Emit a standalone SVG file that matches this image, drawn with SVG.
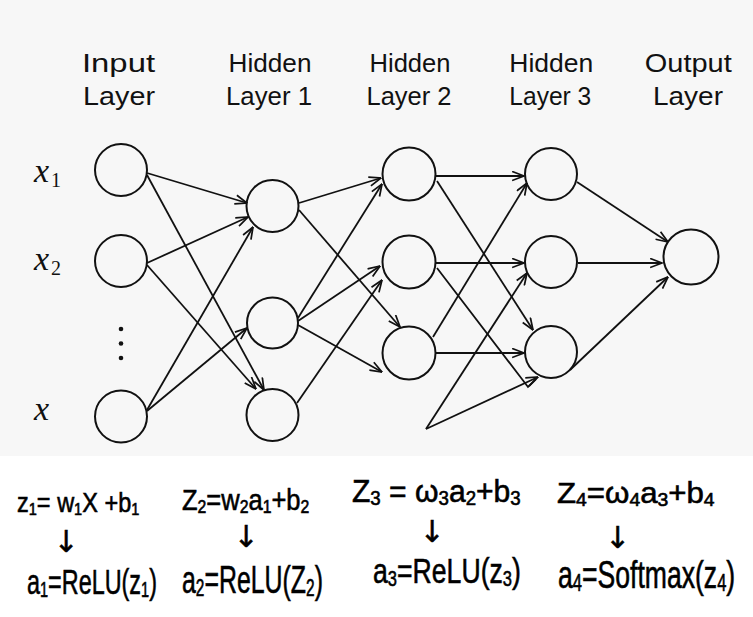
<svg xmlns="http://www.w3.org/2000/svg" width="753" height="617" viewBox="0 0 753 617">
<defs>
<marker id="ah" viewBox="0 0 12 10" refX="11.5" refY="5" markerWidth="13" markerHeight="11" markerUnits="userSpaceOnUse" orient="auto">
<path d="M0.5,0.8 L11.5,5 L0.5,9.2" fill="none" stroke="#111" stroke-width="1.6" stroke-linejoin="miter"/>
</marker>
<style>
.node{fill:none;stroke:#111;stroke-width:2}
.edge{fill:none;stroke:#111;stroke-width:1.8;marker-end:url(#ah)}
.plain{fill:none;stroke:#111;stroke-width:1.8}
.title{font-family:"Liberation Sans","DejaVu Sans",sans-serif;font-size:26px;fill:#111;text-anchor:middle}
.var{font-family:"Liberation Serif","DejaVu Serif",serif;font-style:italic;font-size:34px;fill:#111}
.varsub{font-style:normal;font-size:20px}
.eq{font-family:"Liberation Sans","DejaVu Sans",sans-serif;fill:#000;stroke:#000;stroke-width:0.6}
.sub{font-size:62%}
.arr{font-family:"DejaVu Sans",sans-serif;font-size:30px;fill:#000;stroke:#000;stroke-width:0.5;text-anchor:middle}
.dot{fill:#111}
</style>
</defs>
<rect x="0" y="0" width="753" height="617" fill="#ffffff"/>
<rect x="0" y="0" width="753" height="456" fill="#f7f7f7"/>

<g id="titles">
<text class="title" x="118.5" y="72" textLength="73" lengthAdjust="spacingAndGlyphs">Input</text>
<text class="title" x="119" y="105" textLength="72" lengthAdjust="spacingAndGlyphs">Layer</text>
<text class="title" x="270" y="72" textLength="83" lengthAdjust="spacingAndGlyphs">Hidden</text>
<text class="title" x="269" y="105" textLength="86" lengthAdjust="spacingAndGlyphs">Layer 1</text>
<text class="title" x="410" y="72" textLength="81" lengthAdjust="spacingAndGlyphs">Hidden</text>
<text class="title" x="409" y="105" textLength="85" lengthAdjust="spacingAndGlyphs">Layer 2</text>
<text class="title" x="551.3" y="72" textLength="84" lengthAdjust="spacingAndGlyphs">Hidden</text>
<text class="title" x="550.3" y="105" textLength="82" lengthAdjust="spacingAndGlyphs">Layer 3</text>
<text class="title" x="688.3" y="72" textLength="87" lengthAdjust="spacingAndGlyphs">Output</text>
<text class="title" x="688" y="105" textLength="70" lengthAdjust="spacingAndGlyphs">Layer</text>
</g>

<g id="input-labels">
<text class="var" x="34" y="182">x<tspan class="varsub" dx="2" dy="5">1</tspan></text>
<text class="var" x="34" y="270">x<tspan class="varsub" dx="2" dy="5">2</tspan></text>
<text class="var" x="34" y="420">x</text>
<circle class="dot" cx="121" cy="329" r="2.3"/>
<circle class="dot" cx="121" cy="343.5" r="2.3"/>
<circle class="dot" cx="121" cy="358" r="2.3"/>
</g>

<g id="connectors">
<line class="edge" x1="147" y1="173" x2="247" y2="203"/>
<line class="edge" x1="147" y1="175" x2="264" y2="390"/>
<line class="edge" x1="147" y1="263" x2="248" y2="217"/>
<line class="edge" x1="147" y1="265" x2="256" y2="389"/>
<line class="edge" x1="147" y1="410" x2="253" y2="227"/>
<line class="edge" x1="147" y1="411" x2="247" y2="328"/>
<line class="edge" x1="299" y1="203" x2="381" y2="178"/>
<line class="edge" x1="299" y1="210" x2="400" y2="327"/>
<line class="edge" x1="298" y1="318" x2="382" y2="184"/>
<line class="edge" x1="298" y1="321" x2="380" y2="266"/>
<line class="edge" x1="298" y1="325" x2="382" y2="372"/>
<line class="edge" x1="297" y1="403" x2="382" y2="280"/>
<line class="edge" x1="436" y1="176" x2="524" y2="176"/>
<line class="edge" x1="437" y1="181" x2="533" y2="330"/>
<line class="edge" x1="436" y1="263" x2="524" y2="263"/>
<polyline class="plain" points="437,268 528,387 536,379"/>
<line class="edge" x1="433" y1="337" x2="527" y2="183"/>
<line class="edge" x1="436" y1="353" x2="524" y2="353"/>
<line class="edge" x1="426" y1="429" x2="527" y2="273"/>
<line class="edge" x1="426" y1="429" x2="538" y2="377"/>
<line class="edge" x1="577" y1="182" x2="668" y2="242"/>
<line class="edge" x1="578" y1="263" x2="662" y2="263"/>
<line class="edge" x1="570" y1="370" x2="668" y2="277"/>
</g>

<g id="in1"><circle class="node" cx="121" cy="170" r="26"/></g>
<g id="in2"><circle class="node" cx="121" cy="261" r="26"/></g>
<g id="in3"><circle class="node" cx="121" cy="416.5" r="26"/></g>
<g id="h1n1"><circle class="node" cx="272.5" cy="206" r="26"/></g>
<g id="h1n2"><circle class="node" cx="272.5" cy="323" r="25.5"/></g>
<g id="h1n3"><circle class="node" cx="272.5" cy="415" r="26"/></g>
<g id="h2n1"><circle class="node" cx="409" cy="174" r="26.5"/></g>
<g id="h2n2"><circle class="node" cx="409" cy="262" r="26.5"/></g>
<g id="h2n3"><circle class="node" cx="409" cy="353" r="26.5"/></g>
<g id="h3n1"><circle class="node" cx="551" cy="174" r="26"/></g>
<g id="h3n2"><circle class="node" cx="551" cy="262" r="26"/></g>
<g id="h3n3"><circle class="node" cx="551" cy="352" r="26"/></g>
<g id="out"><circle class="node" cx="691" cy="257" r="27.5"/></g>

<g id="equations">
<text class="eq" transform="translate(17,512) scale(0.84,1)" font-size="28">z<tspan class="sub" dy="3">1</tspan><tspan dy="-3">= w</tspan><tspan class="sub" dy="3">1</tspan><tspan dy="-3">X +b</tspan><tspan class="sub" dy="3">1</tspan></text>
<text class="arr" x="66" y="552">↓</text>
<text class="eq" transform="translate(27,594) scale(0.65,1)" font-size="36">a<tspan class="sub" dy="3">1</tspan><tspan dy="-3">=ReLU(z</tspan><tspan class="sub" dy="3">1</tspan><tspan dy="-3">)</tspan></text>

<text class="eq" transform="translate(182,510) scale(0.85,1)" font-size="30">Z<tspan class="sub" dy="3">2</tspan><tspan dy="-3">=w</tspan><tspan class="sub" dy="3">2</tspan><tspan dy="-3">a</tspan><tspan class="sub" dy="3">1</tspan><tspan dy="-3">+b</tspan><tspan class="sub" dy="3">2</tspan></text>
<text class="arr" x="246" y="547">↓</text>
<text class="eq" transform="translate(182,593) scale(0.655,1)" font-size="38">a<tspan class="sub" dy="3">2</tspan><tspan dy="-3">=ReLU(Z</tspan><tspan class="sub" dy="3">2</tspan><tspan dy="-3">)</tspan></text>

<text class="eq" transform="translate(352,502) scale(0.94,1)" font-size="32">Z<tspan class="sub" dy="3">3</tspan><tspan dy="-3"> = ω</tspan><tspan class="sub" dy="3">3</tspan><tspan dy="-3">a</tspan><tspan class="sub" dy="3">2</tspan><tspan dy="-3">+b</tspan><tspan class="sub" dy="3">3</tspan></text>
<text class="arr" x="432" y="542">↓</text>
<text class="eq" transform="translate(373,583) scale(0.74,1)" font-size="36">a<tspan class="sub" dy="3">3</tspan><tspan dy="-3">=ReLU(z</tspan><tspan class="sub" dy="3">3</tspan><tspan dy="-3">)</tspan></text>

<text class="eq" transform="translate(557,503) scale(1.04,1)" font-size="30">Z<tspan class="sub" dy="3">4</tspan><tspan dy="-3">=ω</tspan><tspan class="sub" dy="3">4</tspan><tspan dy="-3">a</tspan><tspan class="sub" dy="3">3</tspan><tspan dy="-3">+b</tspan><tspan class="sub" dy="3">4</tspan></text>
<text class="arr" x="617.5" y="548">↓</text>
<text class="eq" transform="translate(558,588) scale(0.7,1)" font-size="38">a<tspan class="sub" dy="3">4</tspan><tspan dy="-3">=Softmax(z</tspan><tspan class="sub" dy="3">4</tspan><tspan dy="-3">)</tspan></text>
</g>
</svg>
